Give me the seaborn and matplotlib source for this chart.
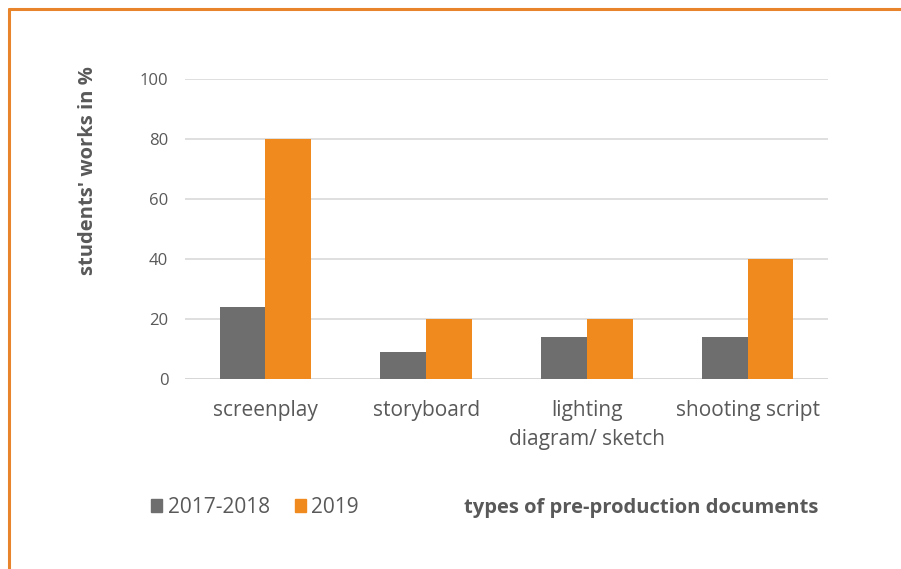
import pandas as pd
import seaborn as sns
import matplotlib.pyplot as plt
from matplotlib.lines import Line2D

categories = ["screenplay", "storyboard", "lighting\ndiagram/ sketch", "shooting script"]
years = ["2017-2018", "2019"]
values_2017_2018 = [24, 9, 14, 14]
values_2019 = [80, 20, 20, 40]
y_ticks = [0, 20, 40, 60, 80, 100]

TEXT = "#595959"
GRAY = "#6e6e6e"
ORANGE = "#f08a1f"
BORDER = "#e8842c"


def create_chart() -> None:
    df = pd.DataFrame({
        "category": categories * 2,
        "year": [years[0]] * len(categories) + [years[1]] * len(categories),
        "value": values_2017_2018 + values_2019,
    })

    sns.set_style("white")
    plt.rcParams["font.family"] = ["Open Sans", "DejaVu Sans"]

    fig = plt.figure(figsize=(9.01, 5.69), dpi=100)
    ax = fig.add_axes([0.2053, 0.3339, 0.7136, 0.5273])

    sns.barplot(data=df, x="category", y="value", hue="year",
                palette=[GRAY, ORANGE], width=0.57, saturation=1,
                linewidth=0, ax=ax, legend=False)

    ax.set_ylim(0, 100)
    ax.set_yticks(y_ticks)
    ax.yaxis.grid(True, color="#d9d9d9", linewidth=1.2)
    ax.set_axisbelow(True)
    for side in ["top", "right", "left", "bottom"]:
        ax.spines[side].set_visible(False)
    ax.axhline(0, color="#d0d0d0", linewidth=1.4, zorder=0)
    ax.tick_params(axis="y", length=0, pad=12, labelsize=12, labelcolor=TEXT)
    ax.tick_params(axis="x", length=0, pad=15, labelsize=15, labelcolor=TEXT)
    for lab in ax.get_xticklabels():
        lab.set_linespacing(1.5)
    ax.set_xlabel("")
    ax.set_ylabel("")

    fig.text(0.098, 0.7, "students' works in %", rotation=90, ha="center",
             va="center", fontsize=14.5, fontweight="bold", color=TEXT)
    fig.text(0.908, 0.108, "types of pre-production documents", ha="right",
             va="center", fontsize=14.5, fontweight="bold", color=TEXT)

    handles = [plt.Rectangle((0, 0), 1, 1, color=c) for c in [GRAY, ORANGE]]
    leg = fig.legend(handles, years, loc="center left",
                     bbox_to_anchor=(0.156, 0.108), ncol=2, frameon=False,
                     fontsize=15, handlelength=0.55, handleheight=0.55,
                     handletextpad=0.25, columnspacing=1.2, borderpad=0)
    for t in leg.get_texts():
        t.set_color(TEXT)

    fig.add_artist(Line2D([0.010, 1.0], [0.984, 0.984], color=BORDER,
                          linewidth=2.2, transform=fig.transFigure))
    fig.add_artist(Line2D([0.0105, 0.0105], [0.0, 0.984], color=BORDER,
                          linewidth=2.2, transform=fig.transFigure))

    fig.savefig("out.png", dpi=100)
    plt.close(fig)


if __name__ == "__main__":
    create_chart()
